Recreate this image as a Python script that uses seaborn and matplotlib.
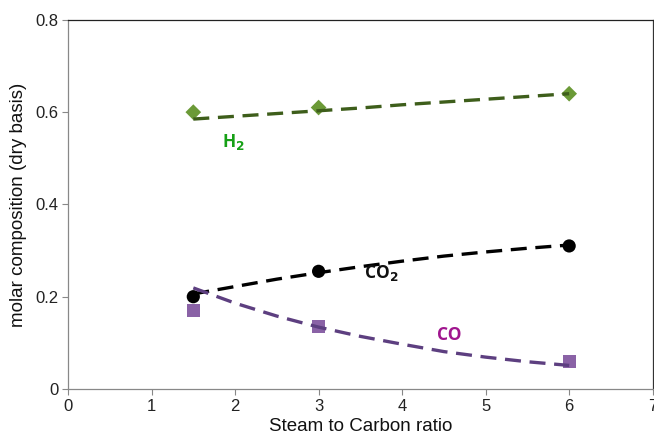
import matplotlib
matplotlib.use("Agg")
import matplotlib.pyplot as plt
import seaborn as sns
import pandas as pd

# Measured dry-basis compositions
sc_ratio = [1.5, 3, 6]
h2_meas = [0.60, 0.61, 0.64]
co2_meas = [0.20, 0.255, 0.31]
co_meas = [0.17, 0.135, 0.06]

# Model predictions
sc_model = [1.5, 2, 2.5, 3, 3.5, 4, 4.5, 5, 5.5, 6]
h2_model = [0.585, 0.591, 0.597, 0.603, 0.609, 0.616, 0.622, 0.628, 0.634, 0.640]
co2_model = [0.206, 0.222, 0.238, 0.252, 0.265, 0.277, 0.288, 0.297, 0.305, 0.312]
co_model = [0.219, 0.186, 0.158, 0.134, 0.114, 0.097, 0.081, 0.069, 0.059, 0.051]

x_ticks = [0, 1, 2, 3, 4, 5, 6, 7]
y_ticks = [0, 0.2, 0.4, 0.6, 0.8]
y_tick_labels = ["0", "0.2", "0.4", "0.6", "0.8"]

sns.set_style("white")
plt.rcParams["font.family"] = ["Liberation Sans", "DejaVu Sans"]

fig = plt.figure(figsize=(6.54, 4.42), dpi=100)
ax = fig.add_axes([0.104, 0.12, 0.894, 0.835])

meas = pd.DataFrame({"sc": sc_ratio, "H2": h2_meas, "CO2": co2_meas, "CO": co_meas})
model = pd.DataFrame({"sc": sc_model, "H2": h2_model, "CO2": co2_model, "CO": co_model})

series = [
    ("H2", "D", 8, "#6b9a37", "#3e5e1b"),
    ("CO2", "o", 9.5, "#000000", "#000000"),
    ("CO", "s", 9.5, "#8a62a6", "#5d3f80"),
]
for name, mk, ms, mcol, lcol in series:
    sns.scatterplot(data=meas, x="sc", y=name, ax=ax, marker=mk, s=ms ** 2,
                    color=mcol, edgecolor="none", zorder=2, legend=False)
    sns.lineplot(data=model, x="sc", y=name, ax=ax, color=lcol, lw=2.4,
                 dashes=False, zorder=3, legend=False)
    ax.lines[-1].set_dashes((4.8, 2.6))

label_font = ["Open Sans", "DejaVu Sans"]
ax.text(1.98, 0.535, r"H$_\mathbf{2}$", color="#16a016", fontsize=12.5,
        fontweight="bold", family=label_font, ha="center", va="center")
ax.text(3.75, 0.252, r"CO$_\mathbf{2}$", color="#111111", fontsize=12.5,
        fontweight="bold", family=label_font, ha="center", va="center")
ax.text(4.57, 0.117, "CO", color="#a0158e", fontsize=12.5,
        fontweight="bold", family=label_font, ha="center", va="center")

ax.set_xlim(0, 7)
ax.set_ylim(0, 0.8)
ax.set_xticks(x_ticks)
ax.set_yticks(y_ticks)
ax.set_yticklabels(y_tick_labels)
ax.set_xlabel("Steam to Carbon ratio", fontsize=13.5, labelpad=3, color="#111111")
ax.set_ylabel("molar composition (dry basis)", fontsize=13.5, labelpad=6, color="#111111")
ax.tick_params(axis="both", labelsize=12, length=4, width=0.8, color="#888888",
               labelcolor="#222222", direction="out", left=True, bottom=True, pad=3)
for sp in ax.spines.values():
    sp.set_color("#888888")
    sp.set_linewidth(0.9)
    sp.set_visible(True)
ax.spines["top"].set_color("#222222")
ax.spines["right"].set_color("#333333")

fig.savefig("out.png", dpi=100)
